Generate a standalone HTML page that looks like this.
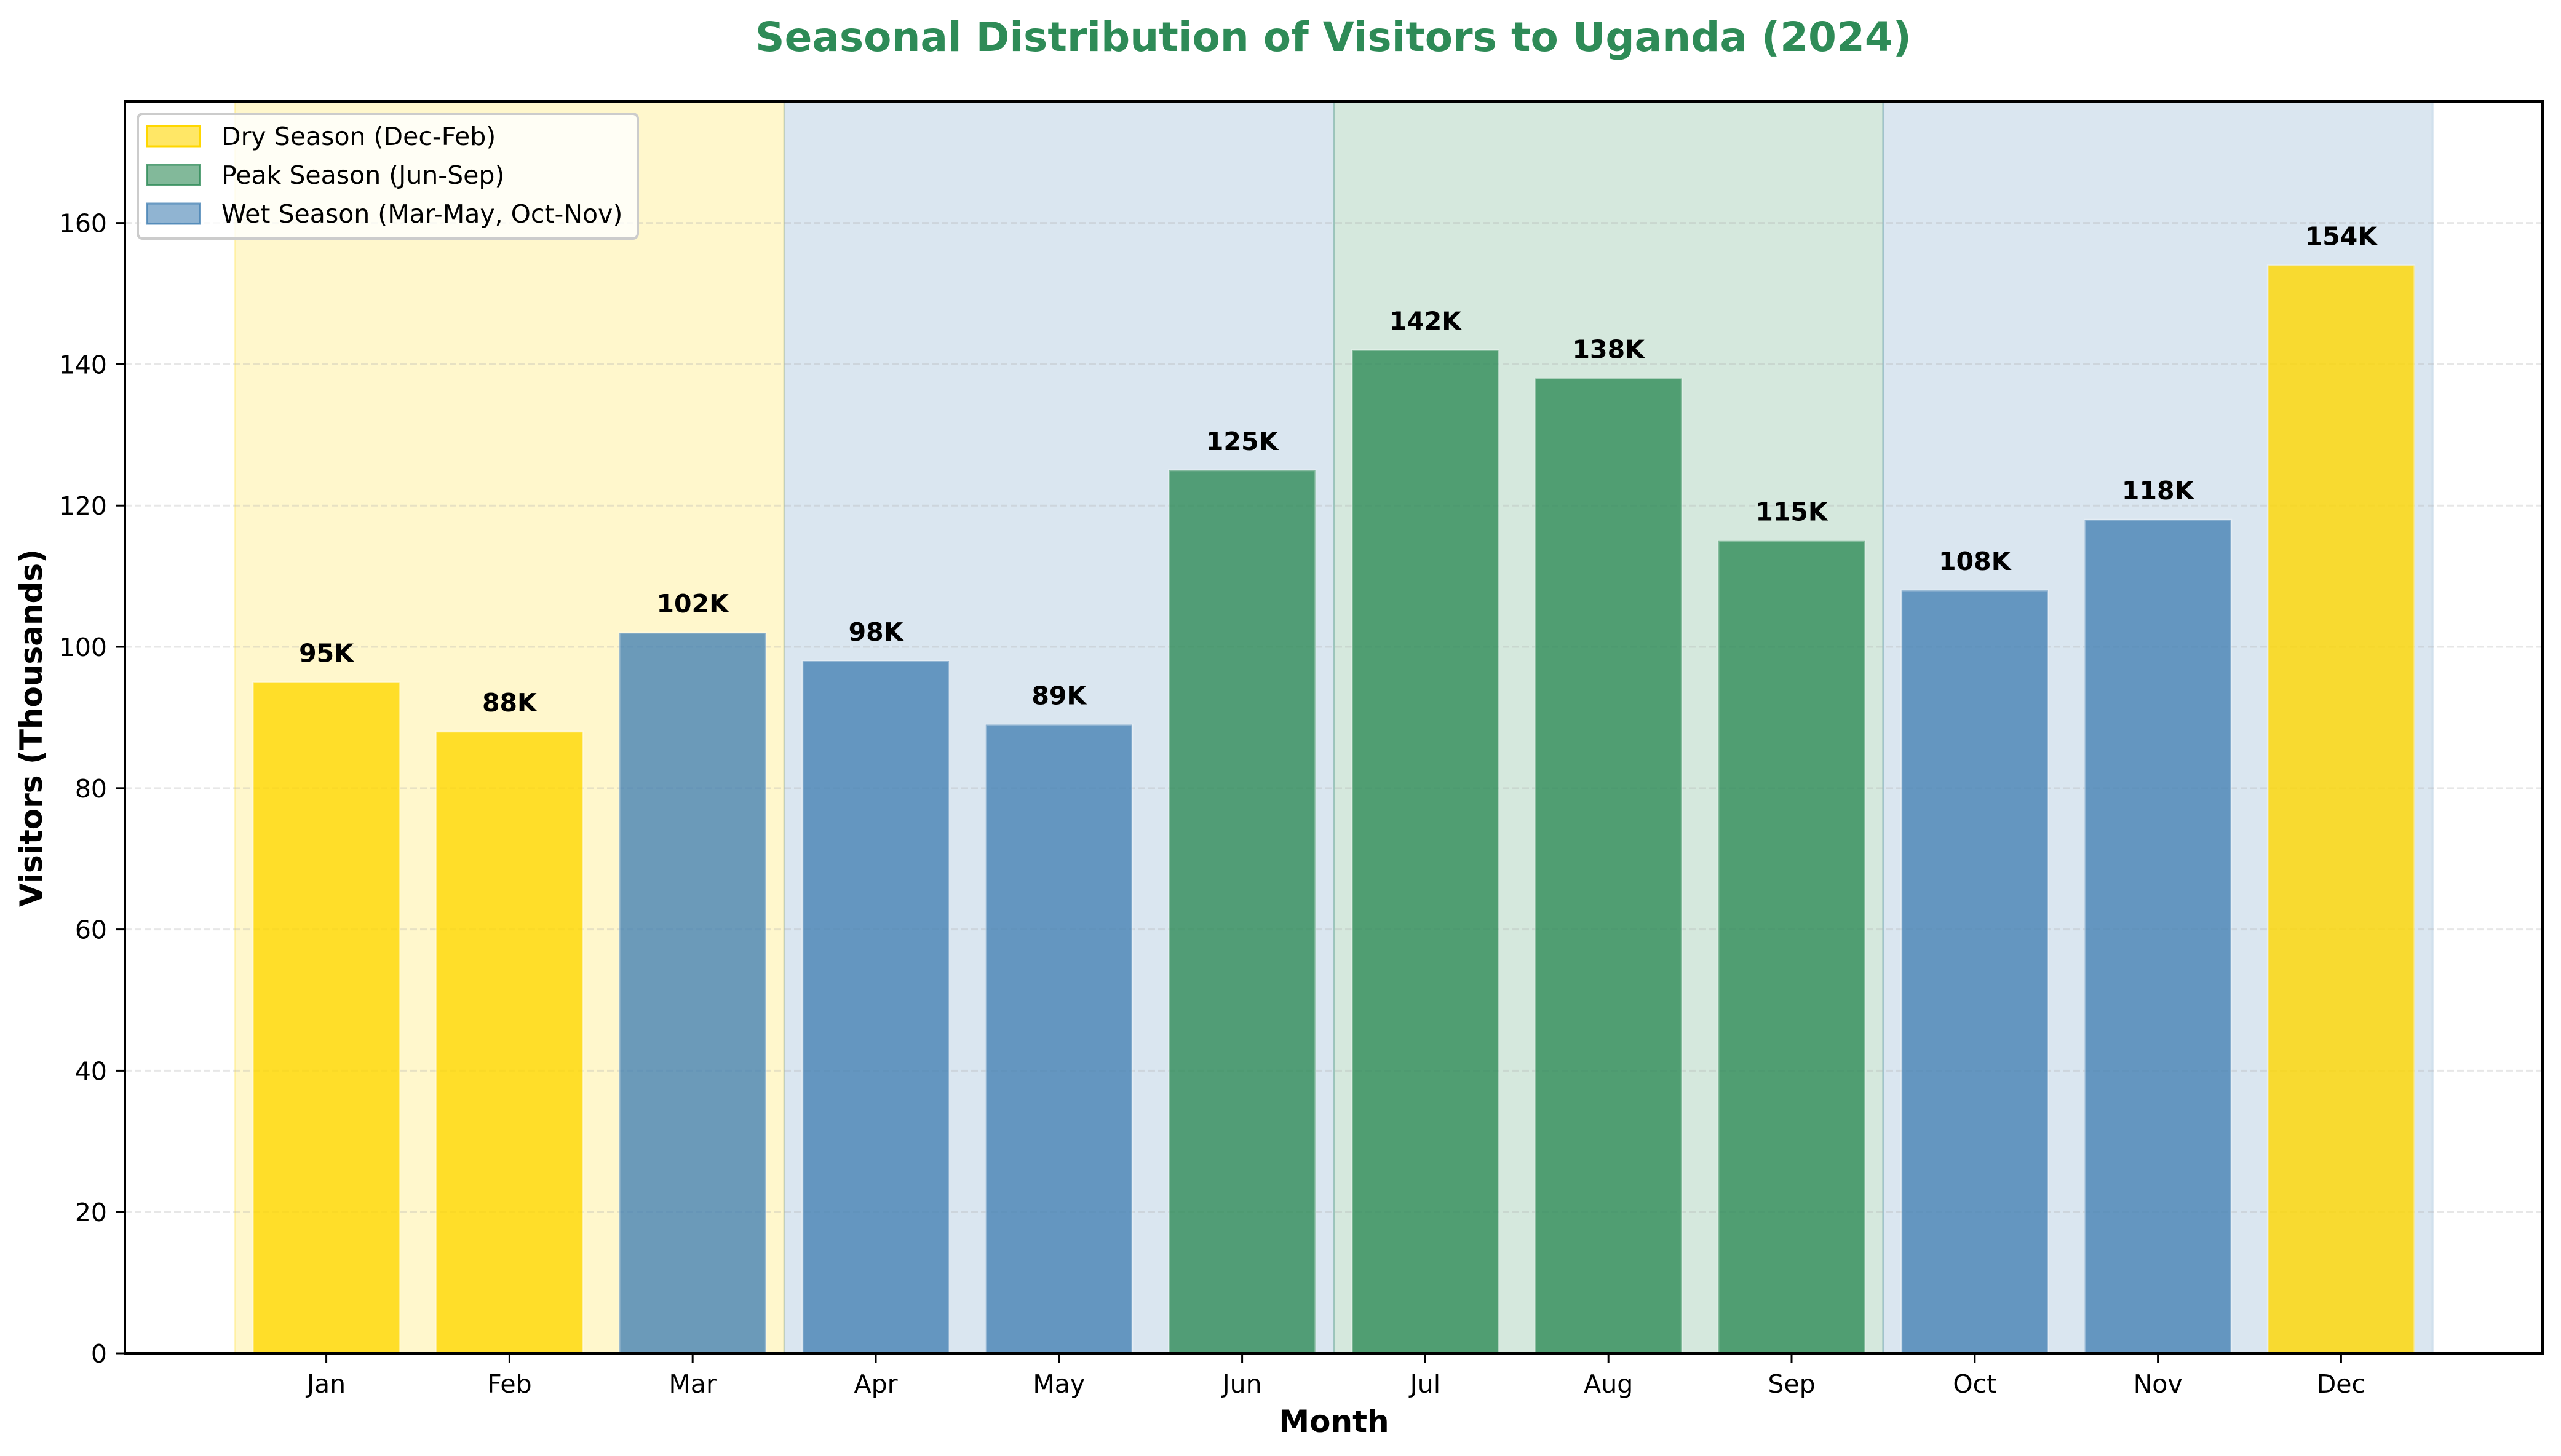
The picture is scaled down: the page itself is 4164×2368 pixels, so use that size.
<!DOCTYPE html>
<html><head><meta charset="utf-8"><style>
html,body{margin:0;padding:0;background:#fff;}
svg{display:block;font-family:"DejaVu Sans","Liberation Sans",sans-serif;}
</style></head><body>
<svg id="chart" width="4164" height="2368" viewBox="0 0 4164 2368" xmlns="http://www.w3.org/2000/svg">
<rect x="0" y="0" width="4164" height="2368" fill="#fff"/>
<g id="spans"></g><g id="grid"></g><g id="bars"></g><g id="labels"></g><g id="axes"></g>
<text x="2168" y="83" text-anchor="middle" font-size="66" font-weight="bold" fill="#2e8b57">Seasonal Distribution of Visitors to Uganda (2024)</text>
<text x="2169" y="2329" text-anchor="middle" font-size="50" font-weight="bold">Month</text>
<text x="0" y="0" transform="translate(68,1184) rotate(-90)" text-anchor="middle" font-size="50" font-weight="bold">Visitors (Thousands)</text>
<g>
<rect x="224" y="185" width="813" height="203" rx="8" fill="#fff" fill-opacity="0.8" stroke="#ccc" stroke-width="4"/>
<rect x="239" y="205" width="86" height="33" fill="#ffd700" fill-opacity="0.6" stroke="#ffd700" stroke-width="3"/>
<text x="360" y="236" font-size="41">Dry Season (Dec-Feb)</text>
<rect x="239" y="268" width="86" height="33" fill="#2e8b57" fill-opacity="0.6" stroke="#2e8b57" stroke-opacity="0.8" stroke-width="3"/>
<text x="360" y="299" font-size="41">Peak Season (Jun-Sep)</text>
<rect x="239" y="331" width="86" height="33" fill="#4682b4" fill-opacity="0.6" stroke="#4682b4" stroke-opacity="0.8" stroke-width="3"/>
<text x="360" y="362" font-size="41">Wet Season (Mar-May, Oct-Nov)</text>
</g>
</svg>
<script>
const months = ["Jan","Feb","Mar","Apr","May","Jun","Jul","Aug","Sep","Oct","Nov","Dec"];
const visitors = [95,88,102,98,89,125,142,138,115,108,118,154];
const seasons = ["dry","dry","wet","wet","wet","peak","peak","peak","peak","wet","wet","dry"];
const yTicks = [0,20,40,60,80,100,120,140,160];
const spanStarts = [-0.5,2.5,5.5,8.5];
const spanEnds = [2.5,5.5,8.5,11.5];
const spanSeasons = ["dry","wet","peak","wet"];

const colors = {dry:"#ffd700", peak:"#2e8b57", wet:"#4682b4"};
const L=203,R=4134,T=165,B=2201, XMIN=-1.1, XMAX=12.1, YMAX=177.2;
const x = v => L + (v - XMIN) / (XMAX - XMIN) * (R - L);
const y = v => B - v / YMAX * (B - T);
const NS="http://www.w3.org/2000/svg";
function mk(tag, attrs, parent){const e=document.createElementNS(NS,tag);for(const k in attrs)e.setAttribute(k,attrs[k]);parent.appendChild(e);return e;}
const gS=document.getElementById('spans'),gG=document.getElementById('grid'),gB=document.getElementById('bars'),gL=document.getElementById('labels'),gA=document.getElementById('axes');

spanStarts.forEach((s,i)=>{
  const r=mk('rect',{x:x(s),y:T,width:x(spanEnds[i])-x(s),height:B-T,fill:colors[spanSeasons[i]],'fill-opacity':0.2,stroke:colors[spanSeasons[i]],'stroke-opacity':0.2,'stroke-width':3},gS);
  
  
});
yTicks.forEach(t=>{
  if(t>0){
    const g=mk('line',{x1:L,x2:R,y1:y(t),y2:y(t),stroke:'#b0b0b0','stroke-opacity':0.3,'stroke-width':3,'stroke-dasharray':'11 5'},gG);
    
    
  }
  const tk=mk('line',{x1:L-15,x2:L,y1:y(t),y2:y(t),stroke:'#000','stroke-width':3},gA);
  
  
  const tl=mk('text',{x:L-29,y:y(t)+15,'text-anchor':'end','font-size':41},gA);
  tl.textContent=t;
  
  
});
months.forEach((m,i)=>{
  const v=visitors[i], w=0.8;
  const b=mk('rect',{x:x(i-w/2),y:y(v),width:x(i+w/2)-x(i-w/2),height:B-y(v),fill:colors[seasons[i]],'fill-opacity':0.8,stroke:'#fff','stroke-opacity':0.3,'stroke-width':3},gB);
  
  
  const lb=mk('text',{x:x(i),y:y(v)-33,'text-anchor':'middle','font-size':41,'font-weight':'bold'},gL);
  lb.textContent=v+'K';
  
  
  const tk=mk('line',{x1:x(i),x2:x(i),y1:B,y2:B+15,stroke:'#000','stroke-width':3},gA);
  
  
  const tl=mk('text',{x:x(i),y:2265,'text-anchor':'middle','font-size':41},gA);
  tl.textContent=m;
  
  
});
const fr=mk('rect',{x:L,y:T,width:R-L,height:B-T,fill:'none',stroke:'#000','stroke-width':4},gA);


</script>
</body></html>
